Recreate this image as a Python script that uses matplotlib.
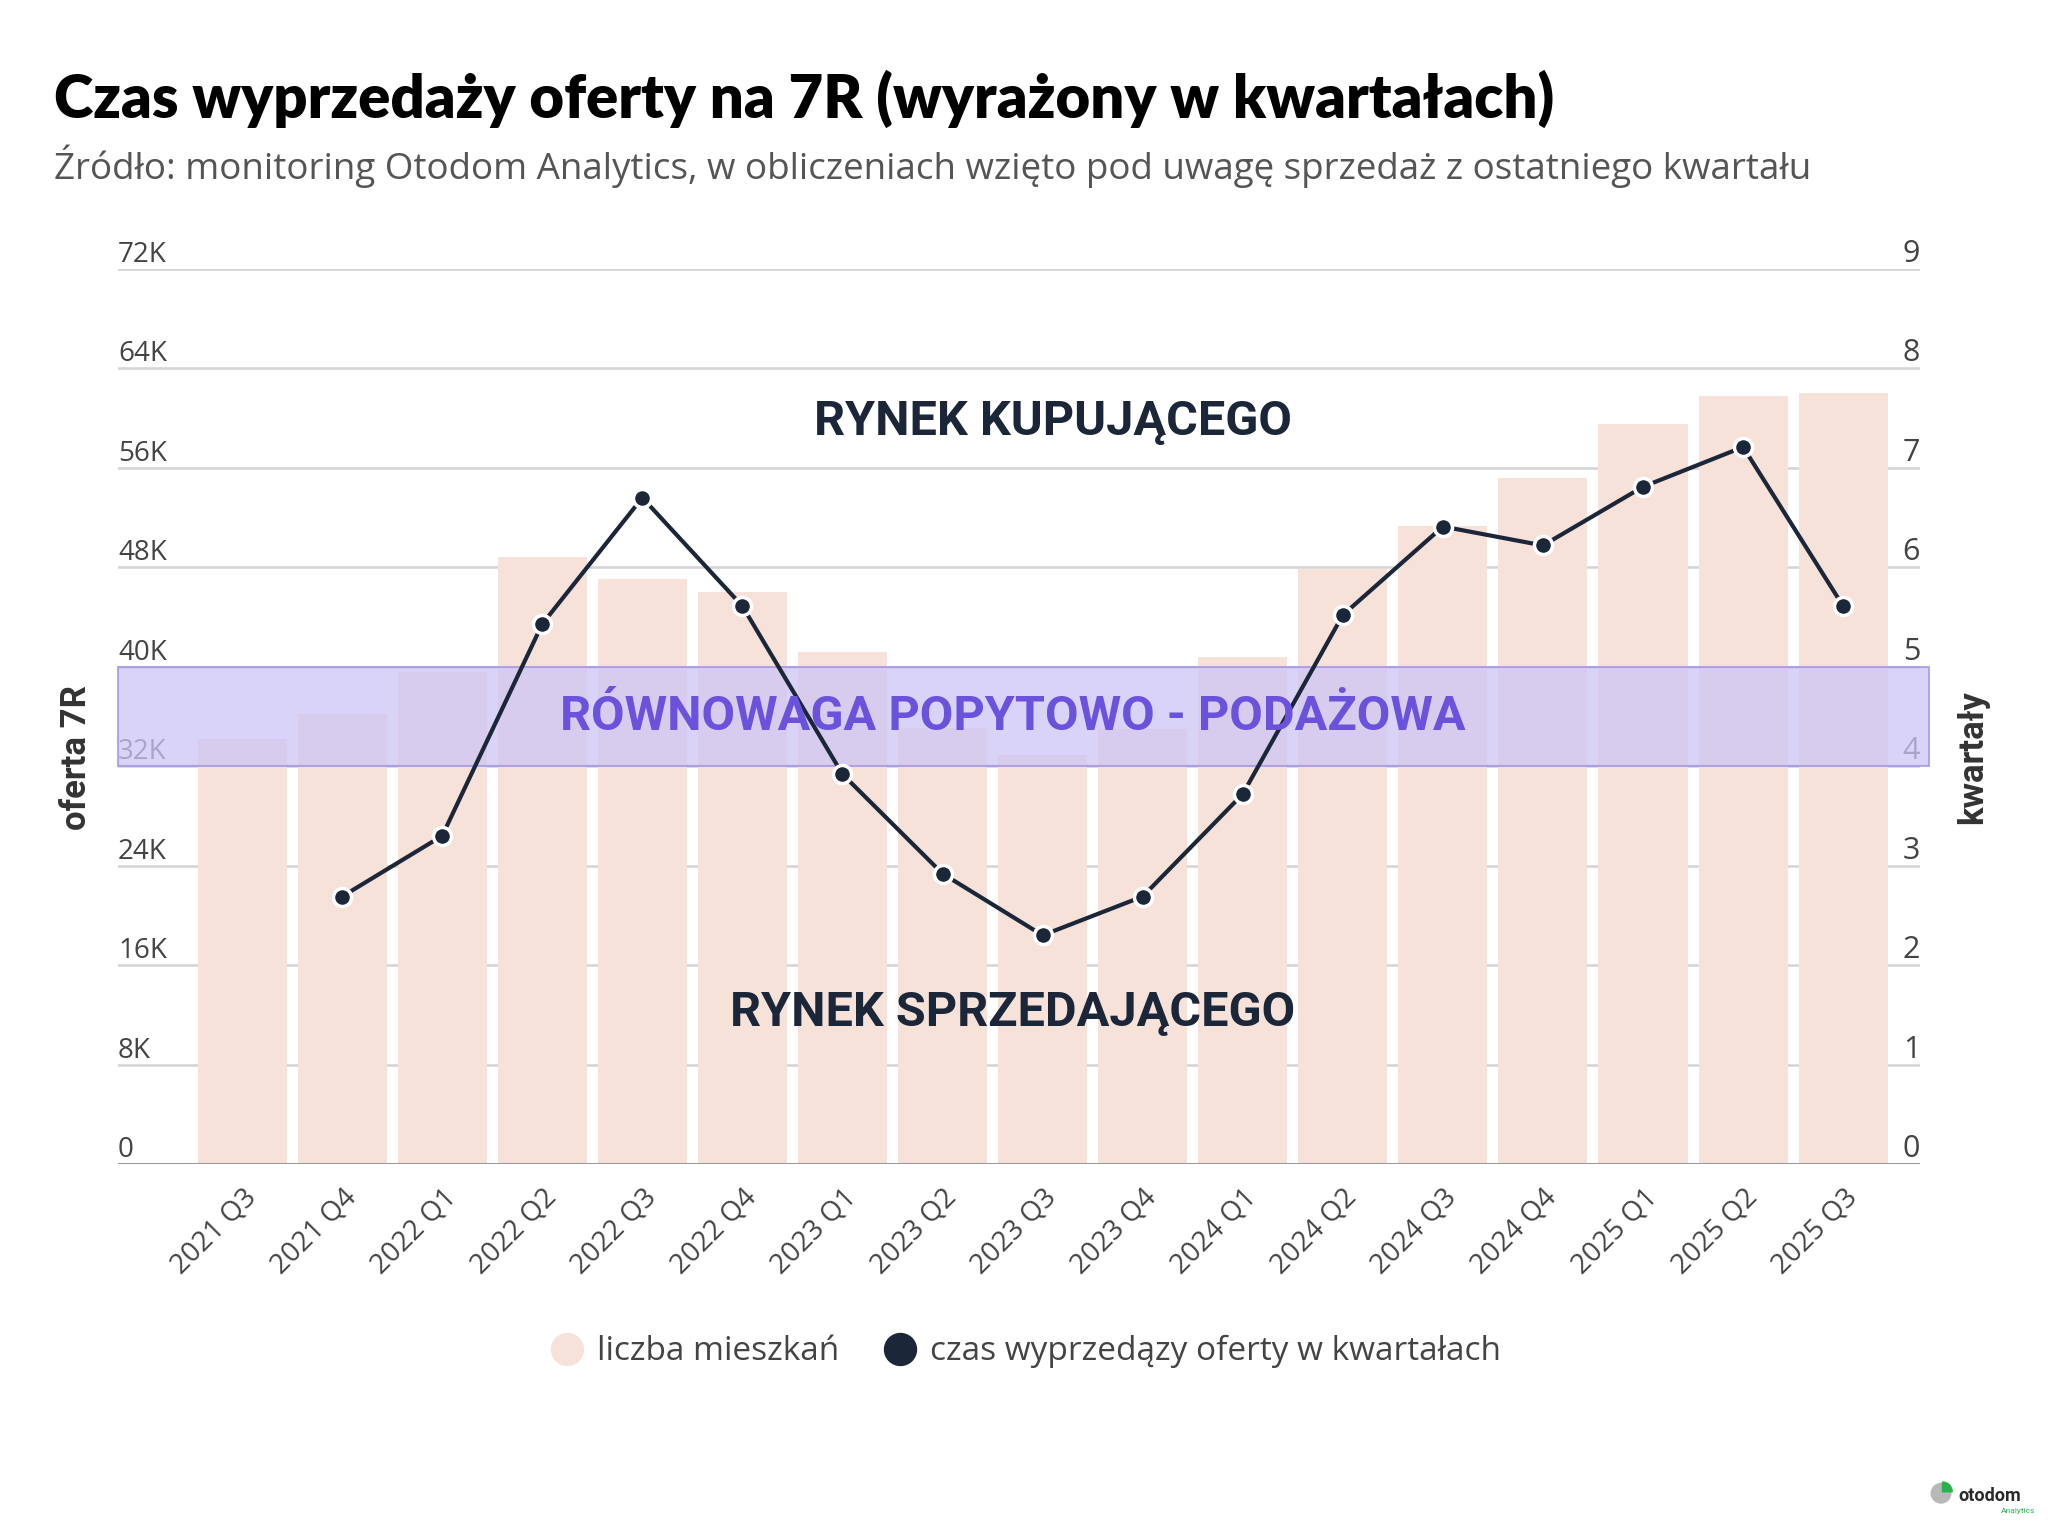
import numpy as np
import matplotlib
matplotlib.use("Agg")
import matplotlib.pyplot as plt
from matplotlib.lines import Line2D
from matplotlib.patches import Wedge, Circle

# Data
quarters = ["2021 Q3", "2021 Q4", "2022 Q1", "2022 Q2", "2022 Q3", "2022 Q4",
            "2023 Q1", "2023 Q2", "2023 Q3", "2023 Q4", "2024 Q1", "2024 Q2",
            "2024 Q3", "2024 Q4", "2025 Q1", "2025 Q2", "2025 Q3"]
offer = [34200, 36200, 39600, 48800, 47100, 46000, 41200, 35100, 32900,
         35000, 40800, 47900, 51300, 55200, 59500, 61800, 62000]
sell_time = [np.nan, 2.69, 3.30, 5.43, 6.70, 5.61, 3.92, 2.92, 2.30,
             2.69, 3.72, 5.52, 6.41, 6.22, 6.81, 7.21, 5.61]
left_ticks = [0, 8000, 16000, 24000, 32000, 40000, 48000, 56000, 64000, 72000]
left_labels = ["0", "8K", "16K", "24K", "32K", "40K", "48K", "56K", "64K", "72K"]
right_ticks = list(range(10))
band = (4, 5)

BAR = "#f7e2da"
NAVY = "#1b2638"
PURPLE = "#6b52dc"
TXT = "#444444"

fig = plt.figure(figsize=(20.48, 15.24), dpi=100)
ax = fig.add_axes([0.0576, 0.2362, 0.88, 0.5873])
ax2 = ax.twinx()

x = np.arange(len(quarters))
ax.bar(x, offer, width=0.89, color=BAR, zorder=2)
ax.set_xlim(-1.24, 16.77)
ax.set_ylim(0, 72000)
ax2.set_ylim(0, 9)

# grid lines
for t in left_ticks[1:]:
    ax.axhline(t, color="#d4d4d4", lw=1.8, zorder=1)
ax.axhline(0, color="#9a9a9a", lw=2.2, zorder=3)

for a in (ax, ax2):
    for s in a.spines.values():
        s.set_visible(False)
    a.set_yticks([])
ax.tick_params(axis="x", length=0, pad=14)
ax.set_xticks(x)
ax.set_xticklabels(quarters, rotation=45, ha="right", rotation_mode="anchor",
                   fontsize=20, color=TXT, family="Open Sans")

# tick labels sitting above grid lines
for t, lab in zip(left_ticks, left_labels):
    ax.text(0.0, t, lab, transform=ax.get_yaxis_transform(), ha="left",
            va="bottom", fontsize=20, color=TXT, family="Open Sans")
for t in right_ticks:
    ax2.text(1.0, t, str(t), transform=ax2.get_yaxis_transform(), ha="right",
             va="bottom", fontsize=22, color=TXT, family="Open Sans")

# balance band
ax2.axhspan(band[0], band[1], xmin=0, xmax=1.005, facecolor="#cdc5f6", alpha=0.75,
            edgecolor="#9c90e4", lw=1.5, zorder=3, clip_on=False)

# line
ax2.plot(x, sell_time, color=NAVY, lw=3, marker="o", markersize=13,
         markerfacecolor=NAVY, markeredgecolor="white", markeredgewidth=2.5,
         zorder=5)

# annotations
ax2.text(8.1, 7.46, "RYNEK KUPUJĄCEGO", ha="center", va="center", fontsize=35,
         fontweight="bold", color=NAVY, family="Roboto", zorder=6)
ax2.text(7.7, 4.5, "RÓWNOWAGA POPYTOWO - PODAŻOWA", ha="center", va="center",
         fontsize=35, fontweight="bold", color=PURPLE, family="Roboto", zorder=6)
ax2.text(7.7, 1.52, "RYNEK SPRZEDAJĄCEGO", ha="center", va="center", fontsize=35,
         fontweight="bold", color=NAVY, family="Roboto", zorder=6)

# axis titles
fig.text(0.0375, 0.503, "oferta 7R", rotation=90, ha="center", va="center",
         fontsize=25, fontweight="bold", color="#333333", family="Roboto")
fig.text(0.963, 0.503, "kwartały", rotation=90, ha="center", va="center",
         fontsize=25, fontweight="bold", color="#333333", family="Roboto")

# title & subtitle
fig.text(0.0265, 0.935, "Czas wyprzedaży oferty na 7R (wyrażony w kwartałach)",
         ha="left", va="center", fontsize=43, fontweight="heavy", color="black",
         family="Lato")
fig.text(0.0265, 0.891, "Źródło: monitoring Otodom Analytics, w obliczeniach wzięto "
         "pod uwagę sprzedaż z ostatniego kwartału", ha="left", va="center",
         fontsize=26.5, color="#555555", family="Open Sans")

# legend
handles = [Line2D([], [], ls="", marker="o", markersize=23, color=BAR),
           Line2D([], [], ls="", marker="o", markersize=23, color=NAVY)]
fig.legend(handles, ["liczba mieszkań", "czas wyprzedązy oferty w kwartałach"],
           loc="center", bbox_to_anchor=(0.5, 0.113), ncol=2, frameon=False,
           prop={"family": "Open Sans", "size": 24}, labelcolor=TXT,
           handletextpad=0.3, columnspacing=1.2, handlelength=1.2)

# small logo
lax = fig.add_axes([0.942, 0.0125, 0.012, 0.016])
lax.set_aspect("equal")
lax.add_patch(Circle((0, 0), 1, color="#b8b8b8"))
lax.add_patch(Wedge((0.15, 0.15), 1, 0, 90, color="#29b34a"))
lax.set_xlim(-1.2, 1.3)
lax.set_ylim(-1.2, 1.3)
lax.axis("off")
fig.text(0.956, 0.0185, "otodom", ha="left", va="center", fontsize=13,
         fontweight="bold", color="#2a2a2a", family="Roboto")
fig.text(0.977, 0.0085, "Analytics", ha="left", va="center", fontsize=6,
         color="#29b34a", family="Roboto")

fig.savefig("out.png", dpi=100, facecolor="white")
